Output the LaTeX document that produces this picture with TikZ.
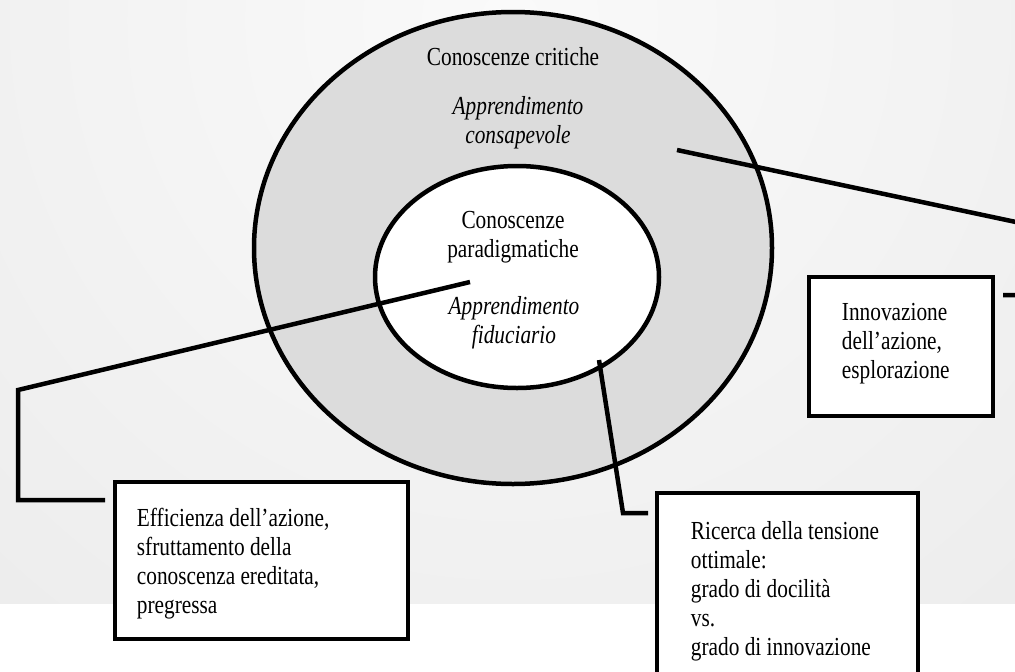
\documentclass[tikz,border=0pt]{standalone}
\usepackage{fontspec}
\setmainfont{Liberation Serif}[FakeStretch=0.82]
\usetikzlibrary{shapes.geometric}

\definecolor{bginner}{RGB}{250,250,250}
\definecolor{bgouter}{RGB}{222,222,222}
\definecolor{ringgray}{RGB}{220,220,220}

\newcommand{\diagfont}{\fontsize{26}{29}\selectfont}

\tikzset{
  thick line/.style={line width=4.5pt, line join=miter},
  ring/.style={ellipse, draw, thick line, inner sep=0pt},
  txt/.style={font=\diagfont, align=center, inner sep=0pt},
  itxt/.style={font=\diagfont\itshape, align=center, inner sep=0pt},
  boxtxt/.style={font=\diagfont, align=left, inner sep=0pt, anchor=west},
  infobox/.style={rectangle, draw, thick line, fill=white, inner sep=0pt},
  connector/.style={thick line}
}

\begin{document}
\begin{tikzpicture}[x=1pt, y=-1pt]
  \useasboundingbox (0,0) rectangle (1015,672);
  \clip (0,0) rectangle (1015,672);

  % backdrop: soft radial gradient over a white bottom band
  \fill[white] (0,0) rectangle (1015,672);
  \begin{scope}
    \clip (0,0) rectangle (1015,603);
    \shade[inner color=bginner, outer color=bgouter] (510,20) circle (1650pt);
  \end{scope}

  % the two nested fields of knowledge
  \node[ring, fill=ringgray, minimum width=518pt, minimum height=472pt] (outer) at (513,248) {};
  \node[ring, fill=white, minimum width=284pt, minimum height=222pt] (inner) at (517,277) {};

  \node[txt] (critiche) at (513,57) {Conoscenze critiche};
  \node[itxt] (consap) at (518,123) {Apprendimento\\consapevole};
  \node[txt] (paradig) at (513,237) {Conoscenze\\paradigmatiche};
  \node[itxt] (fiduc) at (514,323) {Apprendimento\\fiduciario};

  % callout boxes
  \node[infobox, minimum width=293pt, minimum height=157pt] (eff) at (261.5,560.5) {};
  \node[boxtxt] (efftxt) at ([xshift=24pt,yshift=-3pt]eff.west)
    {Efficienza dell'azione,\\sfruttamento della\\conoscenza ereditata,\\pregressa};

  \node[infobox, minimum width=184pt, minimum height=139pt] (inn) at (901,346.5) {};
  \node[boxtxt] (inntxt) at ([xshift=35pt,yshift=3pt]inn.west)
    {Innovazione\\dell'azione,\\esplorazione};

  \node[infobox, minimum width=261pt, minimum height=190pt] (ric) at (787.5,588) {};
  \node[boxtxt] (rictxt) at ([xshift=36pt,yshift=-3pt]ric.west)
    {Ricerca della tensione\\ottimale:\\grado di docilità\\vs.\\grado di innovazione};

  % connector end points
  \coordinate (consapEnd) at (677,150);
  \coordinate (rightBend) at (1030,225);
  \coordinate (rightDown) at (1030,295);
  \coordinate (innStub) at (1003,295);

  \coordinate (fiducEnd) at (470,282);
  \coordinate (leftBend) at (18,390);
  \coordinate (leftDown) at (18,500);
  \coordinate (effStub) at (105,500);

  \coordinate (innerEdge) at (599,360);
  \coordinate (ricBend) at (623,513);
  \coordinate (ricStub) at (648,513);

  \draw[connector] (consapEnd) -- (rightBend) -- (rightDown) -- (innStub);
  \draw[connector] (fiducEnd) -- (leftBend) -- (leftDown) -- (effStub);
  \draw[connector] (innerEdge) -- (ricBend) -- (ricStub);
\end{tikzpicture}
\end{document}
